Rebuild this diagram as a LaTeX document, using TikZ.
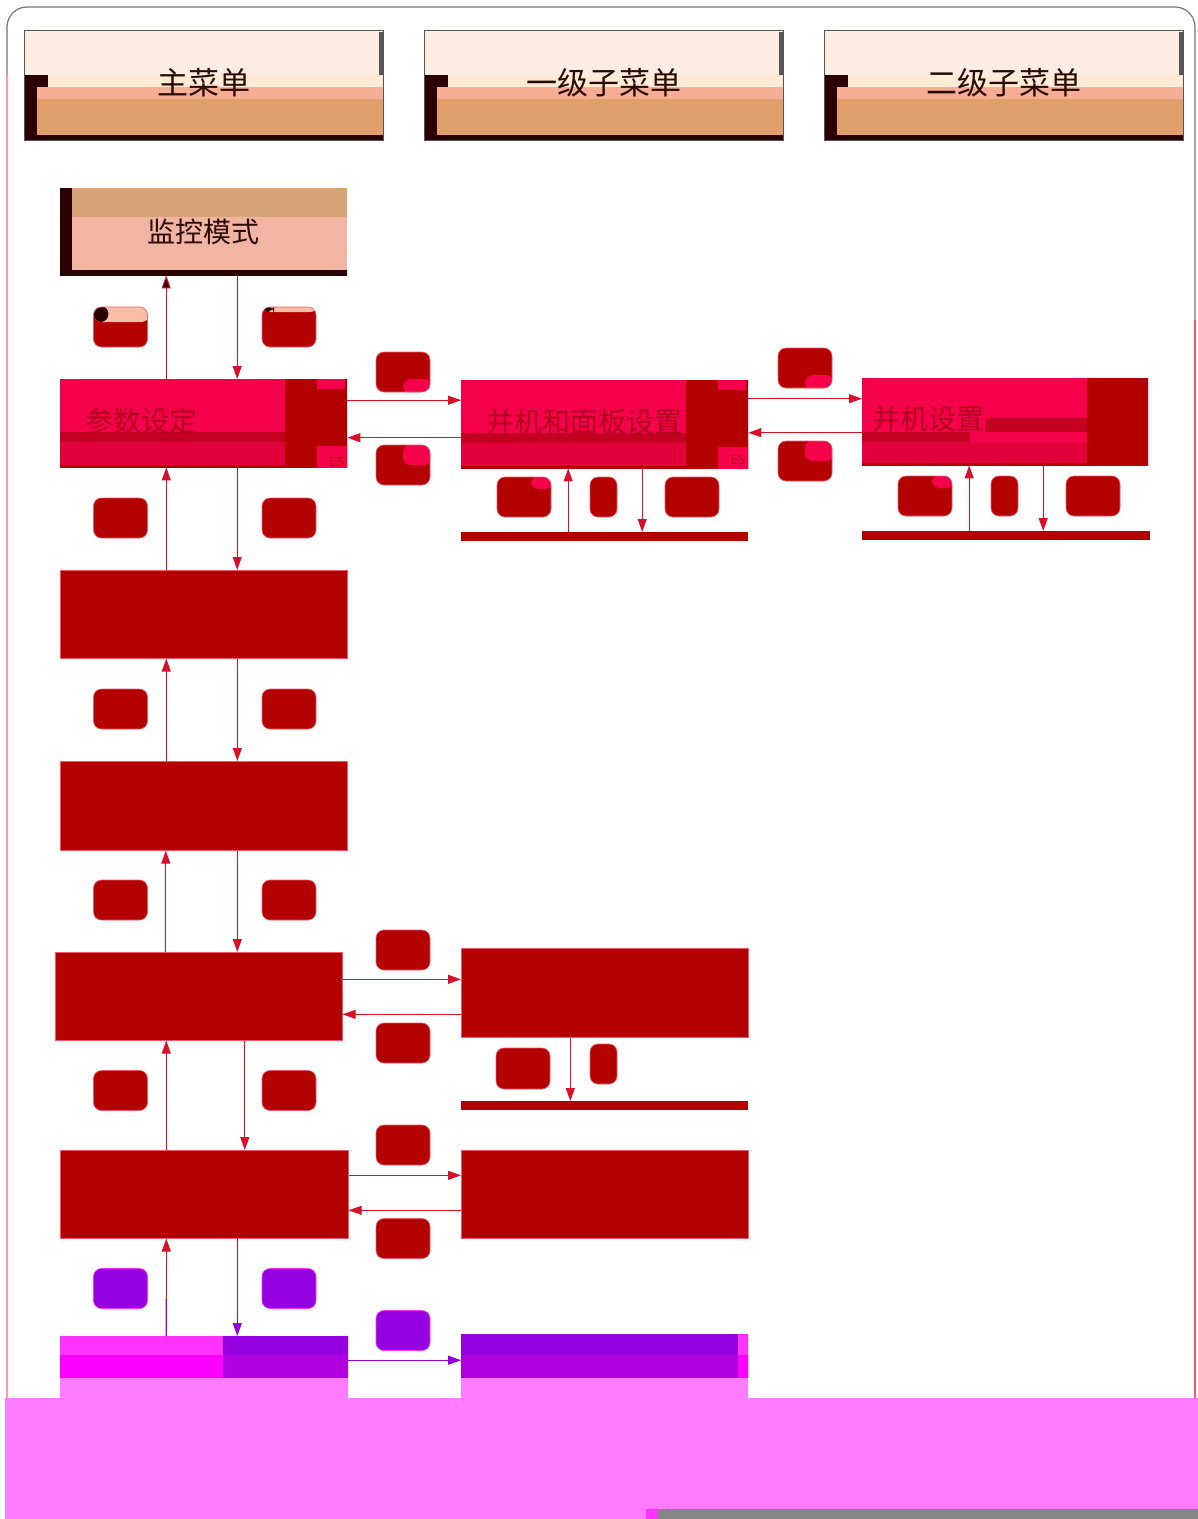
\documentclass[tikz,border=0pt]{standalone}
\usepackage{fontspec}
\newfontfamily\cjk{Noto Sans CJK SC}
\usetikzlibrary{arrows.meta,calc}
\definecolor{hdrtop}{HTML}{FBEDE2}
\definecolor{hdrcream}{HTML}{FFEAD4}
\definecolor{hdrsalmon}{HTML}{F5AE94}
\definecolor{hdrtan}{HTML}{E1A06B}
\definecolor{hdrdark}{HTML}{2A0000}
\definecolor{hdrline}{HTML}{555555}
\definecolor{hdrtext}{HTML}{2A0A05}
\definecolor{montan}{HTML}{D7A47A}
\definecolor{monpink}{HTML}{F2B5A3}
\definecolor{hotpink}{HTML}{F5004B}
\definecolor{bandred}{HTML}{C40022}
\definecolor{midpink}{HTML}{E3003A}
\definecolor{dred}{HTML}{B30000}
\definecolor{edgered}{HTML}{F05A6A}
\definecolor{arrred}{HTML}{D8102A}
\definecolor{txtred}{HTML}{B0001C}
\definecolor{mag1}{HTML}{FF33FF}
\definecolor{mag2}{HTML}{FF00FF}
\definecolor{purp1}{HTML}{9400E0}
\definecolor{purp2}{HTML}{B000E0}
\definecolor{pinkbg}{HTML}{FF7BFF}
\definecolor{framec}{HTML}{777777}
\definecolor{keysalmon}{HTML}{F8BFA5}
\newcommand\pbband[5]{\fill[#1] ($(path picture bounding box.north west)+(#2,#3)$) rectangle ($(path picture bounding box.north west)+(#4,#5)$);}
\tikzset{
  hdr/.style={draw=hdrline, line width=0.8pt, fill=hdrtop, minimum width=359pt, minimum height=110pt,
    anchor=north west, inner sep=0pt, font=\cjk\fontsize{31}{33}\selectfont, text=hdrtext,
    path picture={\pbband{hdrcream}{24}{45}{360}{57}\pbband{hdrdark}{0}{45}{24}{57}
      \pbband{hdrsalmon}{13}{57}{360}{69}\pbband{hdrtan}{13}{69}{360}{105}
      \pbband{hdrdark}{0}{57}{13}{110}\pbband{hdrdark}{0}{105}{360}{110}
      \pbband{hdrline}{355}{2}{360}{45}}},
  monbox/.style={fill=monpink, minimum width=287pt, minimum height=87pt, anchor=north west, inner sep=0pt,
    font=\cjk\fontsize{28}{30}\selectfont, text=hdrtext,
    path picture={\pbband{montan}{12}{0}{288}{29}\pbband{hdrdark}{0}{0}{12}{88}\pbband{hdrdark}{0}{82}{288}{88}}},
  pinkbox/.style={fill=hotpink, minimum width=287pt, minimum height=88pt, anchor=north west,
    inner ysep=0pt, inner xsep=25pt, text width=237pt, align=left,
    font=\cjk\fontsize{28}{30}\selectfont, text=txtred,
    path picture={\pbband{bandred}{0}{53}{288}{63}\pbband{midpink}{0}{63}{288}{86}\pbband{dred}{0}{86}{288}{89}
      \pbband{dred}{225}{0}{288}{89}\pbband{hotpink}{257}{0}{285}{10}\pbband{hotpink}{257}{67}{288}{89}}},
  pinkboxb/.style={fill=hotpink, minimum width=286pt, minimum height=87pt, anchor=north west,
    inner ysep=0pt, inner xsep=10pt, text width=266pt, align=left,
    font=\cjk\fontsize{28}{30}\selectfont, text=txtred,
    path picture={\pbband{bandred}{123}{40}{226}{54}\pbband{bandred}{0}{54}{108}{64}\pbband{midpink}{0}{64}{226}{85}
      \pbband{dred}{0}{85}{287}{88}\pbband{dred}{225}{0}{287}{88}}},
  redbox/.style={fill=dred, draw=edgered, line width=0.6pt, minimum width=287pt, minimum height=88pt, anchor=north west},
  lastbox/.style={minimum width=288pt, minimum height=62pt, anchor=north west,
    path picture={\pbband{mag1}{0}{0}{163}{19}\pbband{mag2}{0}{19}{163}{42}
      \pbband{purp1}{163}{0}{289}{19}\pbband{purp2}{163}{19}{289}{42}\pbband{pinkbg}{0}{42}{289}{63}}},
  lastboxb/.style={minimum width=287pt, minimum height=64pt, anchor=north west,
    path picture={\pbband{purp1}{0}{0}{277}{21}\pbband{purp2}{0}{21}{288}{44}
      \pbband{mag1}{277}{0}{288}{21}\pbband{mag2}{277}{21}{288}{44}\pbband{pinkbg}{0}{44}{288}{65}}},
  bar/.style={fill=dred, minimum width=287pt, minimum height=9pt, inner sep=0pt, anchor=north west},
  key/.style={fill=dred, draw=edgered, line width=0.6pt, rounded corners=8pt, minimum width=54pt, minimum height=40pt, inner sep=0pt},
  narrowkey/.style={key, minimum width=27pt},
  pkey/.style={fill=purp1, draw=mag1, line width=0.6pt, rounded corners=8pt, minimum width=54pt, minimum height=40pt, inner sep=0pt},
  qbr/.style={path picture={\pbband{hotpink}{27}{27}{56}{42}}},
  qtr/.style={path picture={\pbband{hotpink}{27}{-1}{56}{20}}},
  qtrs/.style={path picture={\pbband{hotpink}{34}{-1}{56}{12}}},
  ktop/.style={path picture={\pbband{keysalmon}{0}{-1}{56}{15}\pbband{hdrdark}{0}{-1}{15}{15}}},
  ktopb/.style={path picture={\pbband{keysalmon}{0}{-1}{56}{5}\pbband{hdrdark}{0}{-1}{12}{5}}},
  es/.style={fill=hotpink, text=dred, font=\sffamily\fontsize{13}{13}\selectfont, inner sep=1pt},
  arr/.style={draw=arrred, line width=1.1pt, -{Triangle[length=13pt,width=9pt]}},
  parr/.style={draw=purp1, line width=1.1pt, -{Triangle[length=13pt,width=9pt]}},
}
\begin{document}
\begin{tikzpicture}[x=1pt,y=-1pt]
\useasboundingbox (0,0) rectangle (1198,1519);
\fill[white] (0,0) rectangle (1198,1519);
% outer frame
\draw[framec, line width=1.2pt, rounded corners=20pt] (7,1398) -- (7,7) -- (1195,7) -- (1195,1398);
\draw[edgered!60, line width=1.2pt] (7,75) -- (7,1398);
\draw[edgered, line width=1.2pt] (1195,320) -- (1195,1398);
% headers
\node[hdr, text depth=8pt] (h1) at (24,30) {主菜单};
\node[hdr, text depth=8pt] (h2) at (424,30) {一级子菜单};
\node[hdr, text depth=8pt] (h3) at (824,30) {二级子菜单};
% main boxes
\node[monbox] (m) at (60,188) {监控模式};
\node[pinkbox, text depth=8pt] (p) at (60,379) {参数设定};
\node[pinkbox, text depth=8pt] (pb) at (461,380) {并机和面板设置};
\node[pinkboxb, text depth=8pt] (ps) at (862,378) {并机设置};
\node[es] (es1) at (337,462) {ES};
\node[es] (es2) at (738,460) {ES};
\node[redbox] (b3) at (60,570) {};
\node[redbox, minimum height=89pt] (b4) at (60,761) {};
\node[redbox] (b5) at (55,952) {};
\node[redbox, minimum height=89pt] (b5b) at (461,948) {};
\node[redbox, minimum width=288pt] (b6) at (60,1150) {};
\node[redbox] (b6b) at (461,1150) {};
\node[lastbox] (b7) at (60,1336) {};
\node[lastboxb] (b7b) at (461,1334) {};
% bars
\node[bar] (bar1) at (461,532) {};
\node[bar, minimum width=288pt] (bar2) at (862,531) {};
\node[bar] (bar3) at (461,1101) {};
% keys left column
\node[key, ktop] (k1) at (120.5,327) {};
\node[key, ktopb] (k2) at (289,327) {};
\node[key] (k3) at (120.5,518) {};
\node[key] (k4) at (289,518) {};
\node[key] (k5) at (120.5,709) {};
\node[key] (k6) at (289,709) {};
\node[key] (k7) at (120.5,900) {};
\node[key] (k8) at (289,900) {};
\node[key] (k9) at (120.5,1090.5) {};
\node[key] (k10) at (289,1090.5) {};
\node[pkey] (k11) at (120.5,1288.5) {};
\node[pkey] (k12) at (289,1288.5) {};
% keys middle column
\node[key, qbr] (k13) at (403,372) {};
\node[key, qtr] (k14) at (403,465) {};
\node[key] (k15) at (403,950) {};
\node[key] (k16) at (403,1043) {};
\node[key] (k17) at (403,1145) {};
\node[key] (k18) at (403,1238.5) {};
\node[pkey] (k19) at (403,1330.5) {};
% keys right of pb
\node[key, qbr] (k20) at (805,368) {};
\node[key, qtr] (k21) at (805,461) {};
% keys below pb / ps / b5b
\node[key, qtrs] (k22) at (524,497) {};
\node[narrowkey, qtrs] (k23) at (603.5,497) {};
\node[key] (k24) at (692,497) {};
\node[key, qtrs] (k25) at (925,496) {};
\node[narrowkey, qtrs] (k26) at (1004.5,496) {};
\node[key] (k27) at (1093,496) {};
\node[key, minimum height=41pt] (k28) at (523,1068.5) {};
\node[narrowkey] (k29) at (603.5,1064) {};
% vertical connectors, left column
\draw[arr, -{Triangle[length=13pt,width=9pt,fill=hdrdark]}, draw=arrred] ([xshift=-37.5pt]p.north) -- ([xshift=-37.5pt]p.north |- m.south);
\draw[arr] ([xshift=33.5pt]m.south) -- ([xshift=33.5pt]m.south |- p.north);
\draw[arr] ([xshift=-37.5pt]b3.north) -- ([xshift=-37.5pt]b3.north |- p.south);
\draw[arr] ([xshift=33.5pt]p.south) -- ([xshift=33.5pt]p.south |- b3.north);
\draw[arr] ([xshift=-37.5pt]b4.north) -- ([xshift=-37.5pt]b4.north |- b3.south);
\draw[arr] ([xshift=33.5pt]b3.south) -- ([xshift=33.5pt]b3.south |- b4.north);
\draw[arr] ([xshift=-33pt]b5.north) -- ([xshift=-33pt]b5.north |- b4.south);
\draw[arr] ([xshift=33.5pt]b4.south) -- ([xshift=33.5pt]b4.south |- b5.north);
\draw[arr] ([xshift=-38pt]b6.north) -- ([xshift=-38pt]b6.north |- b5.south);
\draw[arr] ([xshift=46pt]b5.south) -- ([xshift=46pt]b5.south |- b6.north);
\draw[purp1, line width=1.1pt] ([xshift=-38pt]b7.north) -- ([xshift=-38pt,yshift=-60pt]b6.south);
\draw[arrred, line width=1.1pt, -{Triangle[length=13pt,width=9pt]}] ([xshift=-38pt,yshift=-60pt]b6.south) -- ([xshift=-38pt]b6.south);
\draw[parr] ([xshift=33pt]b6.south) -- ([xshift=33pt]b6.south |- b7.north);
% horizontal connectors
\draw[arr] ([yshift=23pt]p.east) -- ([yshift=23pt]p.east -| pb.west);
\draw[arr] ([yshift=-13.5pt]pb.west) -- ([yshift=-13.5pt]pb.west -| p.east);
\draw[arr] ([yshift=25.5pt]pb.east) -- ([yshift=25.5pt]pb.east -| ps.west);
\draw[arr] ([yshift=-11pt]ps.west) -- ([yshift=-11pt]ps.west -| pb.east);
\draw[arr] ([yshift=17pt]b5.east) -- ([yshift=17pt]b5.east -| b5b.west);
\draw[arr] ([yshift=-21.5pt]b5b.west) -- ([yshift=-21.5pt]b5b.west -| b5.east);
\draw[arr] ([yshift=19pt]b6.east) -- ([yshift=19pt]b6.east -| b6b.west);
\draw[arr] ([yshift=-16pt]b6b.west) -- ([yshift=-16pt]b6b.west -| b6.east);
\draw[parr] ([yshift=7pt]b7.east) -- ([yshift=7pt]b7.east -| b7b.west);
% connectors to bars
\draw[arr] ([xshift=-36.5pt]bar1.north) -- ([xshift=-36.5pt]bar1.north |- pb.south);
\draw[arr] ([xshift=37.5pt]pb.south) -- ([xshift=37.5pt]pb.south |- bar1.north);
\draw[arr] ([xshift=-37pt]bar2.north) -- ([xshift=-37pt]bar2.north |- ps.south);
\draw[arr] ([xshift=38pt]ps.south) -- ([xshift=38pt]ps.south |- bar2.north);
\draw[arr] ([xshift=-34.5pt]b5b.south) -- ([xshift=-34.5pt]b5b.south |- bar3.north);
% bottom corrupted area
\fill[pinkbg] (5,1398) rectangle (1198,1519);
\fill[framec!90] (658,1509) rectangle (1198,1519);
\fill[mag1] (646,1509) rectangle (658,1519);
\end{tikzpicture}
\end{document}
